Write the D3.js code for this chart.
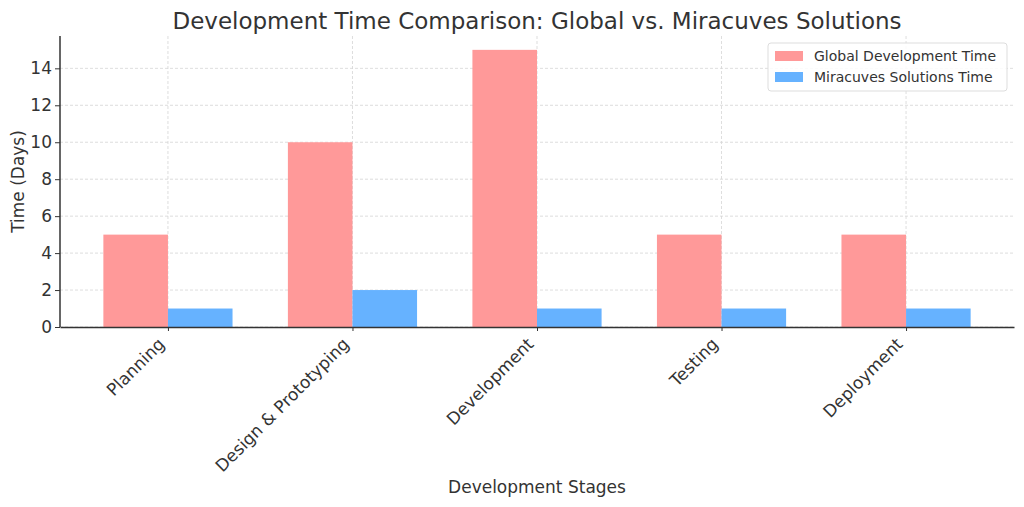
<!DOCTYPE html>
<html>
<head>
<meta charset="utf-8">
<script src="https://cdn.jsdelivr.net/npm/d3@7"></script>
<style>
  body { margin: 0; background: #fff; }
  text { font-family: "DejaVu Sans", sans-serif; }
</style>
</head>
<body>
<svg id="chart" width="1024" height="507"></svg>
<script>
const stages = ["Planning", "Design & Prototyping", "Development", "Testing", "Deployment"];
const globalTime = [5, 10, 15, 5, 5];
const miracuvesTime = [1, 2, 1, 1, 1];
const seriesNames = ["Global Development Time", "Miracuves Solutions Time"];
const yTicks = [0, 2, 4, 6, 8, 10, 12, 14];

(() => {
  const width = 1024;
  const height = 507;
  const margin = { top: 36, right: 10, bottom: 180, left: 60 };
  const innerWidth = width - margin.left - margin.right;
  const innerHeight = height - margin.top - margin.bottom;
  const barW = 0.35;
  const colors = ["#ff9999", "#66b2ff"];

  const svg = d3.select("#chart");
  const g = svg.append("g")
    .attr("transform", `translate(${margin.left}, ${margin.top})`);

  const x = d3.scaleLinear()
    .domain([-0.585, stages.length - 1 + 0.585])
    .range([0, innerWidth]);

  const y = d3.scaleLinear()
    .domain([0, 15.75])
    .range([innerHeight, 0]);

  // grid
  g.append("g")
    .selectAll("line")
    .data(yTicks)
    .join("line")
    .attr("x1", 0)
    .attr("x2", innerWidth)
    .attr("y1", d => y(d))
    .attr("y2", d => y(d))
    .attr("stroke", "#d4d4d4")
    .attr("stroke-dasharray", "3,2")
    .attr("stroke-width", 0.8);

  g.append("g")
    .selectAll("line")
    .data(stages)
    .join("line")
    .attr("x1", (d, i) => x(i))
    .attr("x2", (d, i) => x(i))
    .attr("y1", 0)
    .attr("y2", innerHeight)
    .attr("stroke", "#d4d4d4")
    .attr("stroke-dasharray", "3,2")
    .attr("stroke-width", 0.8);

  // bars
  [globalTime, miracuvesTime].forEach((vals, s) => {
    g.append("g")
      .selectAll("rect")
      .data(vals)
      .join("rect")
      .attr("x", (d, i) => x(i + (s - 1) * barW))
      .attr("width", x(barW) - x(0))
      .attr("y", d => y(d))
      .attr("height", d => y(0) - y(d))
      .attr("fill", colors[s]);
  });

  // axes
  const yAxis = g.append("g")
    .call(d3.axisLeft(y).tickValues(yTicks).tickSize(5).tickPadding(3));
  yAxis.selectAll("text")
    .style("font-size", "17px")
    .attr("fill", "#333");

  const xAxis = g.append("g")
    .attr("transform", `translate(0, ${innerHeight})`)
    .call(d3.axisBottom(x).tickValues(d3.range(stages.length))
      .tickFormat(i => stages[i]).tickSize(4).tickSizeOuter(0));
  xAxis.selectAll("text")
    .style("font-size", "17px")
    .attr("fill", "#333")
    .attr("text-anchor", "end")
    .attr("transform", "translate(-7, 14) rotate(-45)")
    .attr("dy", "0.35em")
    .attr("y", 0)
    .attr("x", 0);

  [yAxis, xAxis].forEach(a => {
    a.select(".domain").attr("stroke", "#333").attr("stroke-width", 1.5);
    a.selectAll(".tick line").attr("stroke", "#333");
  });
  yAxis.select(".domain").attr("d", `M0,${innerHeight}V0`);

  // labels
  svg.append("text")
    .attr("x", margin.left + innerWidth / 2)
    .attr("y", 29)
    .attr("text-anchor", "middle")
    .attr("fill", "#333")
    .style("font-size", "23px")
    .text("Development Time Comparison: Global vs. Miracuves Solutions");

  svg.append("text")
    .attr("transform", "rotate(-90)")
    .attr("x", -(margin.top + innerHeight / 2))
    .attr("y", 24)
    .attr("text-anchor", "middle")
    .attr("fill", "#333")
    .style("font-size", "17px")
    .text("Time (Days)");

  svg.append("text")
    .attr("x", margin.left + innerWidth / 2)
    .attr("y", 493)
    .attr("text-anchor", "middle")
    .attr("fill", "#333")
    .style("font-size", "17px")
    .text("Development Stages");

  // legend
  const legend = svg.append("g").attr("transform", "translate(768, 43)");
  legend.append("rect")
    .attr("width", 239)
    .attr("height", 48)
    .attr("rx", 3)
    .attr("fill", "#fff")
    .attr("fill-opacity", 0.85)
    .attr("stroke", "#ddd");
  seriesNames.forEach((name, i) => {
    legend.append("rect")
      .attr("x", 7)
      .attr("y", 8 + i * 21)
      .attr("width", 28)
      .attr("height", 10)
      .attr("fill", colors[i]);
    legend.append("text")
      .attr("x", 46)
      .attr("y", 18 + i * 21)
      .attr("fill", "#333")
      .style("font-size", "14px")
      .text(name);
  });
})();
</script>
</body>
</html>
